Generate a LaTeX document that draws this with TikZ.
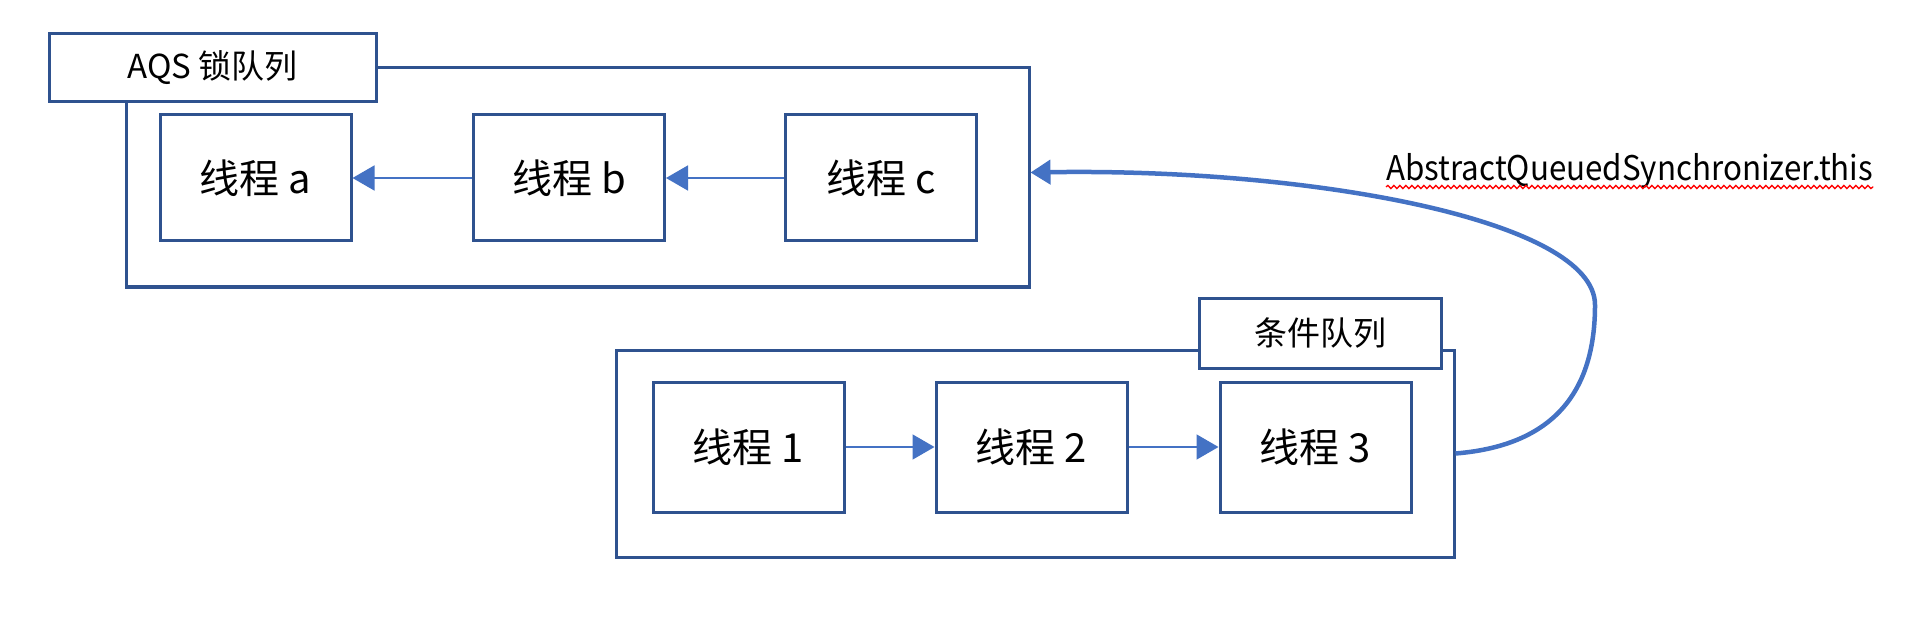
\documentclass[tikz,border=0pt]{standalone}
\usepackage{fontspec}
\setmainfont{Noto Sans CJK SC}
\usetikzlibrary{arrows.meta,decorations.pathmorphing}
\definecolor{boxc}{HTML}{2F528F}
\definecolor{arrc}{HTML}{4472C4}
\begin{document}
\begin{tikzpicture}[x=1pt,y=-1pt,
  outerbox/.style={draw=boxc,line width=3pt,fill=white,rectangle,inner sep=0pt},
  labelbox/.style={draw=boxc,line width=3pt,fill=white,rectangle,inner sep=0pt,font=\fontsize{33}{33}\selectfont},
  thread/.style={draw=boxc,line width=3pt,fill=white,rectangle,inner sep=0pt,minimum width=191pt,font=\fontsize{40}{40}\selectfont},
  conn/.style={draw=arrc,line width=1.6pt,-{Triangle[length=22pt,width=25pt]}},
  curvearrow/.style={draw=arrc,line width=4.5pt,-{Triangle[length=20pt,width=24pt]}}
]
\useasboundingbox (0,0) rectangle (1932,628);
\fill[white] (0,0) rectangle (1932,628);
% AQS queue
\node[outerbox,minimum width=903pt,minimum height=219pt] (aqs) at (577.5,177.5) {};
\node[labelbox,minimum width=327pt,minimum height=68pt] (aqsl) at (212.5,68) {AQS 锁队列};
\node[thread,minimum height=126pt] (ta) at (255.5,178) {线程 a};
\node[thread,minimum height=126pt] (tb) at (569,178) {线程 b};
\node[thread,minimum height=126pt] (tc) at (881,178) {线程 c};
\draw[conn] (tb.west) -- (ta.east);
\draw[conn] (tc.west) -- (tb.east);
% condition queue
\node[outerbox,minimum width=838pt,minimum height=207pt] (cq) at (1035,453.5) {};
\node[labelbox,minimum width=242pt,minimum height=70pt] (cql) at (1320,333) {条件队列};
\node[thread,minimum height=130pt] (t1) at (748.5,447) {线程 1};
\node[thread,minimum height=130pt] (t2) at (1031.5,447) {线程 2};
\node[thread,minimum height=130pt] (t3) at (1315.5,447) {线程 3};
\draw[conn] (t1.east) -- (t2.west);
\draw[conn] (t2.east) -- (t3.west);
% curve
\coordinate (tip) at ([yshift=5pt]aqs.east);
\draw[curvearrow] (cq.east) .. controls (1560,445) and (1595,385) .. (1595,305)
  .. controls (1595,220) and (1310,168) .. (tip);
\node[anchor=base west,inner sep=0pt,font=\fontsize{34}{34}\selectfont] (lbl) at (1386,181)
  {\resizebox{487pt}{\height}{AbstractQueuedSynchronizer.this}};
\draw[red,line width=1.3pt,decorate,decoration={snake,amplitude=1.6pt,segment length=6pt}]
  ([yshift=-6pt]lbl.base west) -- ([yshift=-6pt]lbl.base east);
\end{tikzpicture}
\end{document}
